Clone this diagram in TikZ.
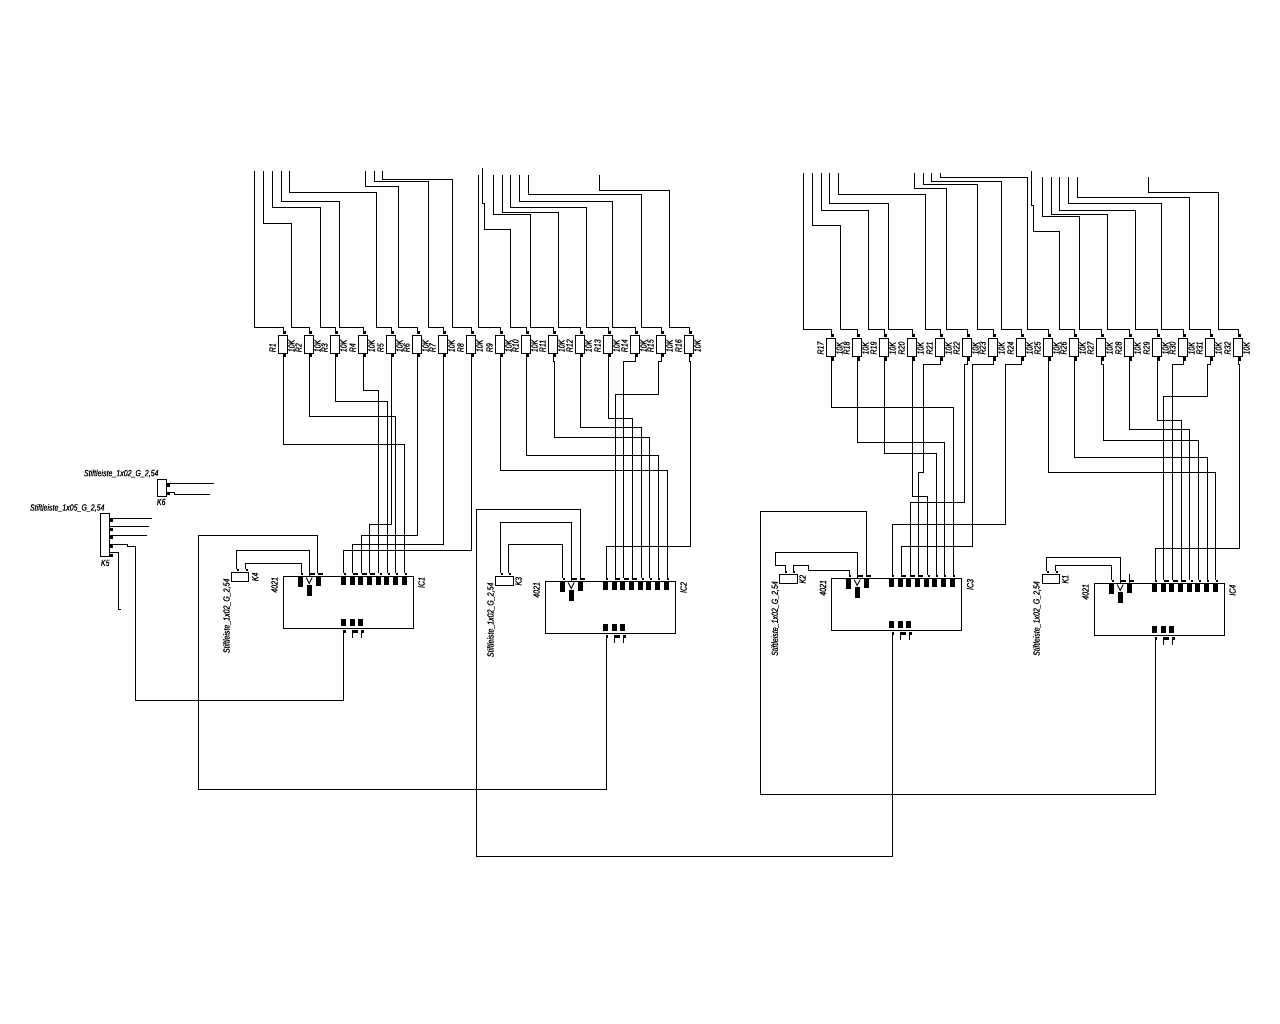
\documentclass[tikz,border=0pt]{standalone}
\usepackage{fontspec}
\setmainfont{Liberation Sans}
\newfontfamily\lab[FakeStretch=0.78,FakeBold=0.25]{Liberation Sans}
\tikzset{
  wire/.style={line width=1.15pt,black,line cap=rect},
  rbox/.style={draw,line width=1.15pt,fill=white,minimum width=9.4pt,minimum height=18.4pt,inner sep=0pt,outer sep=0pt},
  chip/.style={draw,line width=1.15pt,minimum width=130.4pt,minimum height=52pt,inner sep=0pt,outer sep=0pt,anchor=north west},
  kbox/.style={draw,line width=1.15pt,inner sep=0pt,outer sep=0pt,anchor=north west},
  txt/.style={inner sep=0pt,outer sep=0pt,font=\lab\itshape\fontsize{9}{9}\selectfont},
  vtxt/.style={txt,rotate=90},
}
% resistor: number, pin x, rect top y, bus y, label start y
\newcommand{\resis}[5]{%
  \node[rbox] (R#1) at (#2-0.6,#3+9.2) {};
  \fill (#2-0.7,#3-4.3) rectangle (#2+2,#3-1);
  \fill (#2-0.7,#3+18.7) rectangle (#2+2,#3+22);
  \coordinate (R#1t) at (#2,#3-4.3);
  \coordinate (R#1d) at (#2,#3+18.7);
  \coordinate (R#1bus) at (#2,#4);
  \node[vtxt,anchor=west] (R#1n) at (#2-11,#5) {R#1};
  \node[vtxt,anchor=west] (R#1v) at (#2+8,#5) {10K};
}
\newcommand{\topw}[5]{% n, x0,y0, y1, x1
  \coordinate (R#1f) at (#2,#3);
  \draw[wire] (R#1f) |- (#5,#4) |- (R#1bus) -- (R#1t);
}
\newcommand{\topd}[3]{% n, x0,y0
  \coordinate (R#1f) at (#2,#3);
  \draw[wire] (R#1f) |- (R#1bus) -- (R#1t);
}
% IC: number, x, y
\newcommand{\chipbody}[3]{%
  \node[chip] (IC#1) at (#2,#3) {};
  \begin{scope}[shift={(#2,#3)}]
    \foreach \c in {60,69,77,86,95,103,112,121}{
      \fill (\c-2.5,0) rectangle (\c+2.5,8.7);}
    \fill (14.5,0) rectangle (19.5,10);
    \fill (23,8) rectangle (28,19.3);
    \fill (32,0) rectangle (37,9);
    \draw[line width=.9pt] (22.7,1) -- (25.7,7) -- (28.7,1);
    \foreach \a/\b in {17.4/19.7,26.7/31.7,34.4/39.4,60/62.7,69.4/74.7,78.7/83.4,86.7/91.7,96.4/98.4,104.4/106.4,112.4/114.4,121.4/123.4}{
      \fill (\a,-4) rectangle (\b,-1.3);}
    \foreach \c in {60,69,77}{
      \fill (\c-2.5,42) rectangle (\c+2.5,49.3);}
    \foreach \a/\b in {60.7/62.7,69.4/74.7,78/80}{
      \fill (\a,53.7) rectangle (\b,56);}
    \draw[line width=1.15pt] (69,53.7) -- (69,61.4);
    \draw[line width=1.15pt] (78,53.7) -- (78,61.4);
  \end{scope}
}
\newcommand{\keybox}[5]{% name, x, y, w, h
  \node[kbox,minimum width=#4pt,minimum height=#5pt] (#1) at (#2,#3) {};
}
\begin{document}
\begin{tikzpicture}[x=1pt,y=-1pt]
\useasboundingbox[fill=white] (0,0) rectangle (1280,1024);
\begin{scope}[shift={(0.2,0.2)}]

% ---- resistors
\foreach \n/\p in {1/283.3,2/309.3,3/335.3,4/363.3,5/391.3,6/417.3,7/443.3,8/471.3,9/500.3,10/526.3,11/553.3,12/580.3,13/608.3,14/635.3,15/661.3,16/689.3}{
  \resis{\n}{\p}{335}{327.3}{352}
}
\foreach \n/\p in {17/831.3,18/857.3,19/884.3,20/912.3,21/940.3,22/967.3,23/993.3,24/1021.3,25/1048.3,26/1074.3,27/1101.3,28/1129.3,29/1157.3,30/1183.3,31/1210.3,32/1238.3}{
  \resis{\n}{\p}{338.3}{329.3}{354.3}
}

% ---- top wires, first half
\topd{1}{254.3}{171}
\topw{2}{263.3}{171}{223.3}{291.3}
\topw{3}{272.3}{171}{207.3}{320.3}
\topw{4}{281.3}{171}{201.3}{339.3}
\topw{5}{289.3}{171}{192.3}{376.3}
\topw{6}{365.3}{171}{186.3}{398.3}
\topw{7}{374.3}{171}{181.3}{428.3}
\topw{8}{382.3}{171}{179.3}{452.3}
\topd{9}{478.3}{175}
\coordinate (R10f) at (482.3,168.3);
\draw[wire] (R10f) |- (484.3,203.3) |- (510.3,229.3) |- (R10bus) -- (R10t);
\topw{11}{493.3}{175}{214.3}{530.3}
\topw{12}{502.3}{175}{212.3}{558.3}
\topw{13}{510.3}{175}{207.3}{586.3}
\topw{14}{519.3}{175}{201.3}{612.3}
\topw{15}{528.3}{175}{194.3}{641.3}
\topw{16}{599.3}{175}{190.3}{669.3}

% ---- top wires, second half
\topd{17}{803.3}{173}
\topw{18}{812.3}{173}{225.3}{840.3}
\topw{19}{821.3}{173}{210.3}{868.3}
\topw{20}{829.3}{173}{203.3}{888.3}
\topw{21}{838.3}{173}{194.3}{925.3}
\topw{22}{914.3}{173}{188.3}{946.3}
\topw{23}{923.3}{173}{184.3}{977.3}
\topw{24}{931.3}{173}{181.3}{1001.3}
\topw{25}{940.3}{173}{177.3}{1027.3}
\coordinate (R26f) at (1031.3,171);
\draw[wire] (R26f) |- (1033.3,205.3) |- (1059.3,231.3) |- (R26bus) -- (R26t);
\topw{27}{1042.3}{177}{216.3}{1079.3}
\topw{28}{1051.3}{177}{214.3}{1107.3}
\topw{29}{1059.3}{177}{210.3}{1135.3}
\topw{30}{1068.3}{177}{203.3}{1161.3}
\topw{31}{1077.3}{177}{197.3}{1189.3}
\topw{32}{1148.3}{177}{192.3}{1218.3}

% ---- chips
\chipbody{1}{283.3}{576.3}
\chipbody{2}{545.3}{581.3}
\chipbody{3}{831.3}{578.3}
\chipbody{4}{1094.3}{583.3}

\foreach \i/\x in {1/343.3,2/352.3,3/361.3,4/369.3,5/378.3,6/387.3,7/395.3,8/404.3}{\coordinate (A\i) at (\x,572.3);}
\foreach \i/\x in {1/606.3,2/615.3,3/623.3,4/632.3,5/641.3,6/649.3,7/658.3,8/667.3}{\coordinate (B\i) at (\x,577.3);}
\foreach \i/\x in {1/892.3,2/901.3,3/910.3,4/918.3,5/927.3,6/936.3,7/944.3,8/953.3}{\coordinate (C\i) at (\x,574.3);}
\foreach \i/\x in {1/1155.3,2/1163.3,3/1172.3,4/1181.3,5/1189.3,6/1198.3,7/1207.3,8/1215.3}{\coordinate (D\i) at (\x,579.3);}

% ---- resistor to chip, IC1
\draw[wire] (R1d) |- (404.3,444) -- (A8);
\draw[wire] (R2d) |- (395.3,416.3) -- (A7);
\draw[wire] (R3d) |- (387.3,401.3) -- (A6);
\draw[wire] (R4d) |- (378.3,390.3) -- (A5);
\draw[wire] (R5d) |- (369.3,524.3) -- (A4);
\draw[wire] (R6d) |- (361.3,535.3) -- (A3);
\draw[wire] (R7d) |- (352.3,544.3) -- (A2);
\draw[wire] (R8d) |- (343.3,550.3) -- (A1);
% IC2
\draw[wire] (R9d) |- (667.3,470.3) -- (B8);
\draw[wire] (R10d) |- (658.3,455.3) -- (B7);
\draw[wire] (R11d) |- (554.3,361.3) |- (649.3,437.3) -- (B6);
\draw[wire] (R12d) |- (641.3,427.3) -- (B5);
\draw[wire] (R13d) |- (632.3,418.3) -- (B4);
\draw[wire] (R14d) |- (623.3,361.3) -- (B3);
\draw[wire] (R15d) |- (658.3,361.3) |- (615.3,394.3) -- (B2);
\draw[wire] (R16d) |- (690.3,361.3) |- (606.3,546.3) -- (B1);
% IC3
\draw[wire] (R17d) |- (953.3,407.3) -- (C8);
\draw[wire] (R18d) |- (944.3,442.3) -- (C7);
\draw[wire] (R19d) |- (936.3,453.3) -- (C6);
\draw[wire] (R20d) |- (927.3,496.3) -- (C5);
\draw[wire] (R21d) |- (923.3,364.3) |- (918.3,472.3) -- (C4);
\draw[wire] (R22d) |- (964.3,364.3) |- (910.3,502.3) -- (C3);
\draw[wire] (R23d) |- (972.3,364.3) |- (901.3,546.3) -- (C2);
\draw[wire] (R24d) |- (1005.3,364.3) |- (892.3,524.3) -- (C1);
% IC4
\draw[wire] (R25d) |- (1215.3,472.3) -- (D8);
\draw[wire] (R26d) |- (1207.3,457.3) -- (D7);
\draw[wire] (R27d) |- (1103.3,364.3) |- (1198.3,440.3) -- (D6);
\draw[wire] (R28d) |- (1189.3,429.3) -- (D5);
\draw[wire] (R29d) |- (1181.3,420.3) -- (D4);
\draw[wire] (R30d) |- (1172.3,364.3) -- (D3);
\draw[wire] (R31d) |- (1207.3,364.3) |- (1163.3,396.3) -- (D2);
\draw[wire] (R32d) |- (1239.3,364.3) |- (1155.3,548.3) -- (D1);

% ---- headers K1..K4
\keybox{K4}{231.3}{572.3}{17.4}{9.4}
\keybox{K3}{495.3}{576.3}{18}{9.4}
\keybox{K2}{779.3}{574.3}{18}{9}
\keybox{K1}{1042.3}{574.3}{17}{9}
\foreach \a in {236.3,245.3}{\fill (\a,568.3) rectangle (\a+2.4,571);}
\foreach \a in {500.3,508.3}{\fill (\a,572.3) rectangle (\a+2.4,575);}
\foreach \a in {784.3,792.3}{\fill (\a,570.3) rectangle (\a+2.4,573);}
\foreach \a in {1046.3,1055.3}{\fill (\a,570.3) rectangle (\a+2.4,573);}

\draw[wire] (236.3,568.3) |- (309.3,550.3) -- (309.3,576.3);
\draw[wire] (245.3,568.3) |- (301.3,563.3) -- (301.3,572.3);
\draw[wire] (500.3,572.3) |- (571.3,522.3) -- (571.3,581.3);
\draw[wire] (508.3,572.3) |- (562.3,544.3) -- (562.3,577.3);
\draw[wire] (785.3,570.3) |- (775.3,565.3) |- (857.3,552.3) -- (857.3,578.3);
\draw[wire] (793.3,570.3) |- (808.3,565.3) |- (849.3,570.3) -- (849.3,574.3);
\draw[wire] (1046.3,570.3) |- (1120.3,557.3) -- (1120.3,583.3);
\draw[wire] (1055.3,570.3) |- (1111.3,565.3) -- (1111.3,579.3);
\draw[wire] (1129.3,574.3) -- (1129.3,583.3);

% ---- long returns
\draw[wire] (317.3,572.3) |- (198.3,535.3) |- (606.3,789.3) -- (606.3,635.3);
\draw[wire] (580.3,577.3) |- (476.3,509.3) |- (892.3,856.3) -- (892.3,632.3);
\draw[wire] (866.3,574.3) |- (760.3,511.3) |- (1155.3,794.3) -- (1155.3,637.3);

% ---- K5, K6
\keybox{K5}{100.3}{513.3}{9.4}{43.4}
\keybox{K6}{157.3}{479.3}{9.4}{16.7}
\foreach \b in {518.7,528,536,544.7,554}{\fill (109.7,\b) rectangle (112.3,\b+2.7);}
\foreach \b in {483.7,492.3}{\fill (166.7,\b) rectangle (169.3,\b+2.7);}
\draw[wire] (110.7,518.3) -- (151.3,518.3);
\draw[wire] (110.7,526.3) -- (148.3,526.3);
\draw[wire] (110.7,535.3) -- (146.3,535.3);
\draw[wire] (110.7,544.3) -- (127.3,544.3) |- (135.3,546.3) |- (343.3,700.3) -- (343.3,630.3);
\draw[wire] (110.7,552.3) -| (118.3,609.3) -- (120.3,609.3);
\draw[wire] (167.7,483.3) -- (213.3,483.3);
\draw[wire] (167.7,492.3) -| (174.3,494.3) -- (209.3,494.3);

% ---- labels
\node[txt] (lK6) at (161,501.7) {K6};
\node[txt] (lK5) at (105,562.7) {K5};
\node[txt] (lS6) at (121,473.3) {Stiftleiste\_1x02\_G\_2,54};
\node[txt] (lS5) at (67,507.7) {Stiftleiste\_1x05\_G\_2,54};
\node[vtxt] (t1) at (255,576.7) {K4};
\node[vtxt] (t2) at (518.3,581) {K3};
\node[vtxt] (t3) at (802.3,579) {K2};
\node[vtxt] (t4) at (1065,579) {K1};
\node[vtxt] (t5) at (274.3,584.7) {4021};
\node[vtxt] (t6) at (536.3,589.7) {4021};
\node[vtxt] (t7) at (822.7,587.7) {4021};
\node[vtxt] (t8) at (1085.3,591.7) {4021};
\node[vtxt] (t9) at (421.3,582.3) {IC1};
\node[vtxt] (t10) at (683.3,587.3) {IC2};
\node[vtxt] (t11) at (970,584.3) {IC3};
\node[vtxt] (t12) at (1232.3,590) {IC4};
\node[vtxt] (t13) at (226.7,615.7) {Stiftleiste\_1x02\_G\_2,54};
\node[vtxt] (t14) at (490.7,619.7) {Stiftleiste\_1x02\_G\_2,54};
\node[vtxt] (t15) at (775,618.3) {Stiftleiste\_1x02\_G\_2,54};
\node[vtxt] (t16) at (1036.7,618.3) {Stiftleiste\_1x02\_G\_2,54};
\end{scope}
\end{tikzpicture}
\end{document}
